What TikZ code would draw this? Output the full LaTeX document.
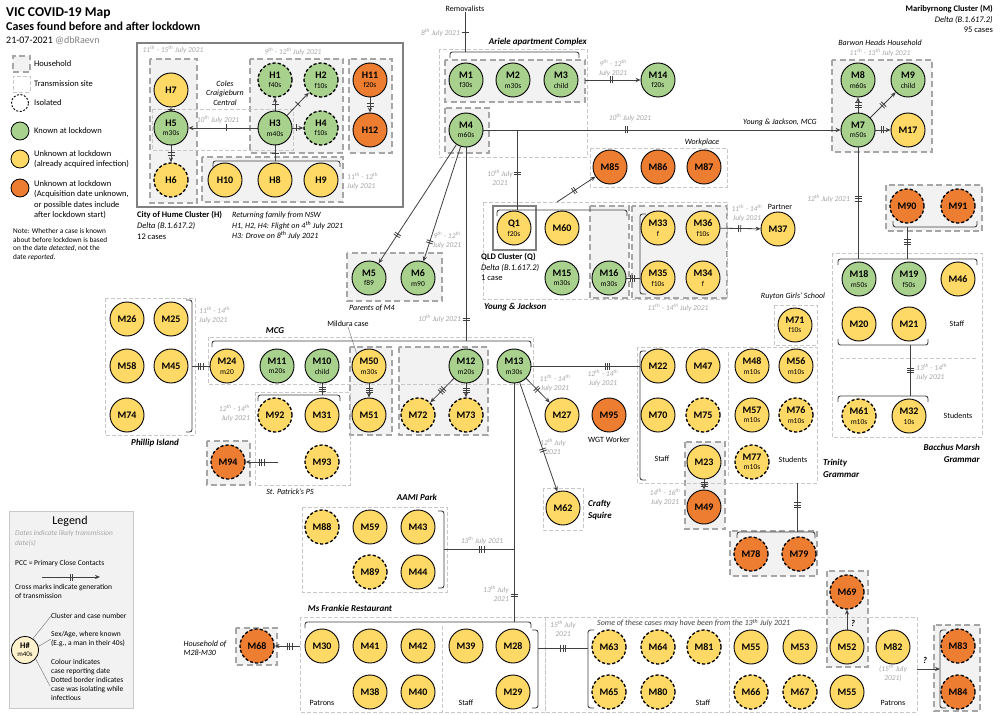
\documentclass[tikz,border=0pt]{standalone}
\usepackage{fontspec}
\setmainfont{Carlito}
\usetikzlibrary{arrows.meta,decorations.markings}
\pgfdeclarelayer{bg}
\pgfdeclarelayer{mid}
\pgfsetlayers{bg,mid,main}
\definecolor{cgreen}{HTML}{A9D18E}
\definecolor{cyellow}{HTML}{FFD966}
\definecolor{corange}{HTML}{ED7D31}
\definecolor{hhfill}{HTML}{F2F2F2}
\definecolor{hhline}{HTML}{A6A6A6}
\definecolor{siteline}{HTML}{C8C8C8}
\definecolor{datec}{HTML}{A6A6A6}
\definecolor{linec}{HTML}{404040}
\definecolor{framec}{HTML}{808080}
\definecolor{paley}{HTML}{FFF2CC}
\newcommand\tsup{\textsuperscript{th}}
\newcommand\cl[2]{#1\\{\fontsize{7.5}{9}\selectfont\mdseries #2}}
\newcommand\tks[1]{\foreach \ii in {1,...,#1}{\draw[-,solid,draw=linec,line width=0.8pt] ({(\ii-(#1+1)/2)*2.2pt},-3.5pt) -- ({(\ii-(#1+1)/2)*2.2pt},3.5pt);}}
\tikzset{
 cs/.style={circle,draw=black,line width=0.9pt,minimum size=34pt,inner sep=0pt,align=center,font=\fontsize{10}{9.5}\selectfont\bfseries},
 G/.style={cs,fill=cgreen},
 Y/.style={cs,fill=cyellow},
 O/.style={cs,fill=corange},
 iso/.style={dash pattern=on 3.2pt off 2pt,line width=1.3pt},
 hh/.style={fill=hhfill,draw=hhline,line width=1.6pt,dash pattern=on 6pt off 3.5pt},
 site/.style={draw=siteline,line width=0.7pt,dash pattern=on 4pt off 2pt},
 frm/.style={draw=framec,line width=1.5pt},
 con/.style={draw=linec,line width=0.8pt},
 arr/.style={con,-{Stealth[length=5pt,width=4.2pt]}},
 brk/.style={draw=linec,line width=0.9pt,rounded corners=2.5pt},
 tk/.style 2 args={postaction={decorate,decoration={markings,mark=at position #1 with {\tks{#2}}}}},
 dt/.style={font=\fontsize{7.5}{9}\selectfont\itshape,text=datec,align=center,inner sep=0pt},
 lab/.style={font=\fontsize{8}{9.5}\selectfont,inner sep=0pt,align=center},
 ilab/.style={font=\fontsize{8}{9.5}\selectfont\itshape,inner sep=0pt,align=center},
 ttl/.style={font=\fontsize{9}{12}\selectfont\bfseries\itshape,inner sep=0pt,align=center},
 lgt/.style={font=\fontsize{8.5}{10.5}\selectfont,inner sep=0pt,align=left,anchor=west},
}
\begin{document}
\begin{tikzpicture}[x=1pt,y=-1pt]
\useasboundingbox (0,0) rectangle (1000,714);

% ---------- title ----------
\node[anchor=west,inner sep=0pt,font=\fontsize{13.5}{15}\selectfont\bfseries] (title) at (6,13) {VIC COVID-19 Map};
\node[anchor=west,inner sep=0pt,font=\fontsize{12}{13}\selectfont\bfseries] (subt) at (6,26) {Cases found before and after lockdown};
\node[anchor=west,inner sep=0pt,font=\fontsize{10}{11}\selectfont] (datel) at (6,41) {21-07-2021 \textcolor{gray}{@dbRaevn}};

% ---------- top legend ----------
\node[hh,minimum width=17pt,minimum height=16pt,inner sep=0pt] (lg1) at (21.5,64) {};
\node[site,minimum width=17pt,minimum height=16pt,inner sep=0pt] (lg2) at (21.5,84) {};
\node[circle,draw=black,dash pattern=on 2pt off 1.6pt,line width=0.9pt,minimum size=17pt,inner sep=0pt] (lg3) at (20,103) {};
\node[circle,draw=black,fill=cgreen,line width=0.8pt,minimum size=18pt,inner sep=0pt] (lg4) at (20,131) {};
\node[circle,draw=black,fill=cyellow,line width=0.8pt,minimum size=18pt,inner sep=0pt] (lg5) at (20,159) {};
\node[circle,draw=black,fill=corange,line width=0.8pt,minimum size=18pt,inner sep=0pt] (lg6) at (20,188) {};
\node[lgt] (lt1) at (34,64) {Household};
\node[lgt] (lt2) at (34,84) {Transmission site};
\node[lgt] (lt3) at (34,103) {Isolated};
\node[lgt] (lt4) at (34,131) {Known at lockdown};
\node[lgt] (lt5) at (34,159) {Unknown at lockdown\\(already acquired infection)};
\node[lgt] (lt6) at (34,199.5) {Unknown at lockdown\\(Acquisition date unknown,\\or possible dates include\\after lockdown start)};
\node[anchor=north west,inner sep=0pt,align=left,font=\fontsize{7.3}{8.8}\selectfont] (note) at (13,228) {Note: Whether a case is known\\about before lockdown is based\\on the date \emph{detected}, not the\\date \emph{reported}.};

% ---------- background boxes ----------
\begin{pgfonlayer}{bg}
\fill[white] (0,0) rectangle (1000,714);
\draw[hh] (150,59) rectangle (197,203);
\draw[hh] (250,59) rectangle (343,153);
\draw[hh] (349,59) rectangle (392,153);
\draw[hh] (202,157) rectangle (343,202);
\draw[hh] (445,60) rectangle (585,102);
\draw[hh] (445,108) rectangle (489,153);
\draw[hh] (832,60) rectangle (932,152);
\draw[hh] (886,185) rectangle (982,231);
\draw[hh] (590,206) rectangle (629,298);
\draw[hh] (632,206) rectangle (727,298);
\draw[hh] (347,253) rectangle (442,301);
\draw[hh] (350,347) rectangle (392,435);
\draw[hh] (399,347) rectangle (488,435);
\draw[hh] (207,441) rectangle (250,485);
\draw[hh] (685,442) rectangle (725,529);
\draw[hh] (730,531) rectangle (817,576);
\draw[hh] (827,571) rectangle (868,667);
\draw[hh] (934,625) rectangle (980,711);
\draw[hh] (236,628) rectangle (277,665);
% sites
\draw[site] (439,49) rectangle (587,157);
\draw[site] (152,109) rectangle (293,150);
\draw[site] (590,148) rectangle (727,187);
\draw[site] (483,202) rectangle (727,299);
\draw[site] (208,337) rectangle (533,384);
\draw[site] (255,392) rectangle (350,485);
\draw[site] (105,298) rectangle (195,435);
\draw[site] (774,305) rectangle (817,345);
\draw[site] (637,347) rectangle (817,483);
\draw[site] (728,352) -- (728,478);
\draw[site] (832,253) rectangle (982,437);
\draw[site] (840,358) -- (977,358);
\draw[site] (543,488) rectangle (583,530);
\draw[site] (302,507) rectangle (447,592);
\draw[site] (300,617) rectangle (545,712);
\draw[site] (442,626) -- (442,712);
\draw[site] (545,617) rectangle (917,712);
\draw[site] (729,626) -- (729,712);
% frames
\draw[frm] (137,43) rectangle (403,207);
\draw[frm] (493,206) rectangle (536,250);
\draw[draw=siteline,fill=hhfill,line width=0.8pt] (9,511) rectangle (133,708);
\end{pgfonlayer}

% ---------- H cluster ----------
\node[Y] (H7) at (171,90) {H7};
\node[G] (H5) at (171,128) {\cl{H5}{m30s}};
\node[Y,iso] (H6) at (171,180) {H6};
\node[G,iso] (H1) at (275,80) {\cl{H1}{f40s}};
\node[G,iso] (H2) at (321,80) {\cl{H2}{f10s}};
\node[G] (H3) at (275,128) {\cl{H3}{m40s}};
\node[G,iso] (H4) at (321,128) {\cl{H4}{f10s}};
\node[O] (H11) at (370,80) {\cl{H11}{f20s}};
\node[O] (H12) at (370,130) {H12};
\node[Y] (H10) at (225,180) {H10};
\node[Y] (H8) at (275,180) {H8};
\node[Y] (H9) at (321,180) {H9};

\node[ilab] (coles) at (225,93) {Coles\\Craigieburn\\Central};
\node[dt] (d1) at (173,50) {11\tsup{} - 15\tsup{} July 2021};
\node[dt] (d2) at (293,52) {9\tsup{} - 12\tsup{} July 2021};
\node[dt] (d3) at (218,120) {10\tsup{} July 2021};
\node[dt,anchor=west,align=left] (d4) at (347,181) {11\tsup{} - 12\tsup{}\\July 2021};
\node[anchor=north west,inner sep=0pt,align=left,font=\fontsize{8.5}{11}\selectfont] (hn) at (137,211) {\textbf{City of Hume Cluster (H)}\\\textit{Delta (B.1.617.2)}\\12 cases};
\node[anchor=north west,inner sep=0pt,align=left,font=\fontsize{8}{10.5}\selectfont\itshape] (hr) at (232,212) {Returning family from NSW\\H1, H2, H4: Flight on 4\tsup{} July 2021\\H3: Drove on 8\tsup{} July 2021};

% ---------- Maribyrnong title ----------
\node[anchor=east,inner sep=0pt,font=\fontsize{8.5}{10}\selectfont\bfseries] (mar1) at (993,9) {Maribyrnong Cluster (M)};
\node[anchor=east,inner sep=0pt,font=\fontsize{8.5}{10}\selectfont\itshape] (mar2) at (993,20) {Delta (B.1.617.2)};
\node[anchor=east,inner sep=0pt,font=\fontsize{8.5}{10}\selectfont] (mar3) at (993,30) {95 cases};

% ---------- M nodes ----------
\node[G] (M1) at (466,80) {\cl{M1}{f30s}};
\node[G] (M2) at (513,80) {\cl{M2}{m30s}};
\node[G] (M3) at (561,80) {\cl{M3}{child}};
\node[G] (M14) at (658,80) {\cl{M14}{f20s}};
\node[G] (M4) at (466,130) {\cl{M4}{m60s}};
\node[O] (M85) at (610,167) {M85};
\node[O] (M86) at (658,167) {M86};
\node[O] (M87) at (704,167) {M87};
\node[Y] (Q1) at (514,228) {\cl{Q1}{f20s}};
\node[Y] (M60) at (562,228) {M60};
\node[G] (M15) at (562,278) {\cl{M15}{m30s}};
\node[G] (M16) at (609,278) {\cl{M16}{m30s}};
\node[Y] (M33) at (658,228) {\cl{M33}{f}};
\node[Y] (M36) at (703,228) {\cl{M36}{f10s}};
\node[Y] (M35) at (658,278) {\cl{M35}{f10s}};
\node[Y] (M34) at (703,278) {\cl{M34}{f}};
\node[Y] (M37) at (778,229) {M37};
\node[G] (M7) at (858,130) {\cl{M7}{m50s}};
\node[G] (M8) at (858,80) {\cl{M8}{m60s}};
\node[G] (M9) at (908,80) {\cl{M9}{child}};
\node[Y] (M17) at (908,130) {M17};
\node[O,iso] (M90) at (907,206) {M90};
\node[O,iso] (M91) at (958,206) {M91};
\node[G] (M18) at (859,279) {\cl{M18}{m50s}};
\node[G] (M19) at (909,279) {\cl{M19}{f50s}};
\node[Y] (M46) at (958,279) {M46};
\node[Y] (M20) at (859,324) {M20};
\node[Y] (M21) at (909,324) {M21};
\node[Y,iso] (M61) at (859,416) {\cl{M61}{m10s}};
\node[Y] (M32) at (909,416) {\cl{M32}{10s}};
\node[Y] (M71) at (795,325) {\cl{M71}{f10s}};
\node[Y] (M22) at (658,366) {M22};
\node[Y] (M47) at (703,366) {M47};
\node[Y] (M48) at (752,366) {\cl{M48}{m10s}};
\node[Y] (M56) at (796,366) {\cl{M56}{m10s}};
\node[Y] (M70) at (658,415) {M70};
\node[Y,iso] (M75) at (703,415) {M75};
\node[Y] (M57) at (752,415) {\cl{M57}{m10s}};
\node[Y,iso] (M76) at (796,415) {\cl{M76}{m10s}};
\node[Y,iso] (M77) at (752,462) {\cl{M77}{m10s}};
\node[Y] (M23) at (704,462) {M23};
\node[O] (M49) at (704,507) {M49};
\node[O,iso] (M78) at (751,554) {M78};
\node[O,iso] (M79) at (799,554) {M79};
\node[G] (M5) at (369,278) {\cl{M5}{f89}};
\node[G] (M6) at (418,278) {\cl{M6}{m90}};
\node[Y] (M26) at (127,319) {M26};
\node[Y] (M25) at (171,319) {M25};
\node[Y] (M58) at (127,366) {M58};
\node[Y] (M45) at (171,366) {M45};
\node[Y] (M74) at (127,415) {M74};
\node[Y] (M24) at (227,366) {\cl{M24}{m20}};
\node[G] (M11) at (277,366) {\cl{M11}{m20s}};
\node[G] (M10) at (322,366) {\cl{M10}{child}};
\node[Y] (M50) at (369,366) {\cl{M50}{m30s}};
\node[G] (M12) at (466,366) {\cl{M12}{m20s}};
\node[G] (M13) at (514,366) {\cl{M13}{m30s}};
\node[Y,iso] (M92) at (275,415) {M92};
\node[Y] (M31) at (322,415) {M31};
\node[Y,iso] (M93) at (322,462) {M93};
\node[Y] (M51) at (369,415) {M51};
\node[Y,iso] (M72) at (418,415) {M72};
\node[Y,iso] (M73) at (466,415) {M73};
\node[O,iso] (M94) at (228,462) {M94};
\node[Y] (M27) at (562,415) {M27};
\node[O] (M95) at (609,415) {M95};
\node[Y] (M62) at (563,508) {M62};
\node[Y,iso] (M88) at (322,527) {M88};
\node[Y] (M59) at (370,527) {M59};
\node[Y] (M43) at (418,527) {M43};
\node[Y,iso] (M89) at (370,572) {M89};
\node[Y] (M44) at (418,572) {M44};
\node[Y] (M30) at (322,646) {M30};
\node[Y] (M41) at (370,646) {M41};
\node[Y] (M42) at (418,646) {M42};
\node[Y] (M39) at (466,646) {M39};
\node[Y] (M28) at (513,646) {M28};
\node[Y] (M38) at (370,692) {M38};
\node[Y] (M40) at (418,692) {M40};
\node[Y] (M29) at (513,692) {M29};
\node[O,iso] (M68) at (257,646) {M68};
\node[Y,iso] (M63) at (609,647) {M63};
\node[Y,iso] (M64) at (658,647) {M64};
\node[Y,iso] (M81) at (704,647) {M81};
\node[Y] (M55) at (751,647) {M55};
\node[Y] (M53) at (800,647) {M53};
\node[Y] (M52) at (847,647) {M52};
\node[Y] (M82) at (893,647) {M82};
\node[Y,iso] (M65) at (609,692) {M65};
\node[Y,iso] (M80) at (658,692) {M80};
\node[Y,iso] (M66) at (751,692) {M66};
\node[Y,iso] (M67) at (800,692) {M67};
\node[Y] (M55b) at (847,692) {M55};
\node[O,iso] (M69) at (847,592) {M69};
\node[O,iso] (M83) at (958,646) {M83};
\node[O,iso] (M84) at (958,692) {M84};

% ---------- labels ----------
\node[lab] (rem) at (465,9) {Removalists};
\node[ttl,anchor=east] (tAr) at (587,42) {Ariele apartment Complex};
\node[ilab] (tWp) at (702,142) {Workplace};
\node[ilab] (tBH) at (880,43) {Barwon Heads Household};
\node[ilab] (tYJM) at (780,122) {Young \& Jackson, MCG};
\node[ilab] (tPar) at (372,308) {Parents of M4};
\node[lab] (tPart) at (780,207) {Partner};
\node[ttl,anchor=west] (tYJ) at (484,307) {Young \& Jackson};
\node[anchor=west,inner sep=0pt,align=left,font=\fontsize{8.5}{10.5}\selectfont] (tQ) at (481,267) {\textbf{QLD Cluster (Q)}\\\textit{Delta (B.1.617.2)}\\1 case};
\node[ttl] (tMCG) at (275,331) {MCG};
\node[lab] (tMil) at (348,324) {Mildura case};
\node[ttl] (tPI) at (155,443) {Phillip Island};
\node[ilab] (tSP) at (290,492) {St. Patrick's PS};
\node[ilab] (tRu) at (793,296) {Ruyton Girls' School};
\node[lab] (tWGT) at (609,440) {WGT Worker};
\node[ttl,anchor=west,align=left] (tCS) at (588,510) {Crafty\\Squire};
\node[ttl,anchor=west,align=left] (tTG) at (823,468) {Trinity\\Grammar};
\node[ttl,anchor=east,align=right] (tBM) at (980,453) {Bacchus Marsh\\Grammar};
\node[ttl] (tAA) at (417,497) {AAMI Park};
\node[ttl] (tMF) at (350,608) {Ms Frankie Restaurant};
\node[ilab,align=left] (tHH) at (205,648) {Household of\\M28-M30};
\node[ilab,anchor=west,text=linec] (tSome) at (597,623) {Some of these cases may have been from the 13\tsup{} July 2021};
\node[lab] (s1) at (662,459) {Staff};
\node[lab] (s2) at (793,460) {Students};
\node[lab] (s3) at (957,324) {Staff};
\node[lab] (s4) at (958,416) {Students};
\node[lab] (s5) at (322,703) {Patrons};
\node[lab] (s6) at (466,703) {Staff};
\node[lab] (s7) at (703,703) {Staff};
\node[lab] (s8) at (893,703) {Patrons};
\node[font=\fontsize{9}{10}\selectfont\bfseries\itshape,inner sep=0pt] (q1) at (853,623) {?};
\node[font=\fontsize{9}{10}\selectfont\bfseries\itshape,inner sep=0pt] (q2) at (925,660) {?};

\node[dt,anchor=east] (d5) at (460,33) {8\tsup{} July 2021};
\node[dt] (d6) at (613,68) {9\tsup{} - 12\tsup{}\\July 2021};
\node[dt] (d7) at (630,118) {10\tsup{} July 2021};
\node[dt] (d8) at (500,178) {10\tsup{} July\\2021};
\node[dt] (d9) at (447,240) {9\tsup{} - 12\tsup{}\\July 2021};
\node[dt,anchor=east] (d10) at (461,319) {10\tsup{} July 2021};
\node[dt] (d11) at (880,53) {11\tsup{} - 13\tsup{} July 2021};
\node[dt,anchor=east] (d12) at (850,199) {12\tsup{} July 2021};
\node[dt] (d13) at (747,213) {11\tsup{} - 14\tsup{}\\July 2021};
\node[dt] (d14) at (678,308) {11\tsup{} - 14\tsup{} July 2021};
\node[dt,anchor=west,align=left] (d15) at (199,315) {11\tsup{} - 14\tsup{}\\July 2021};
\node[dt,anchor=east,align=right] (d16) at (250,413) {12\tsup{} - 14\tsup{}\\July 2021};
\node[dt] (d17) at (555,383) {11\tsup{} - 14\tsup{}\\July 2021};
\node[dt] (d18) at (603,378) {12\tsup{} - 14\tsup{}\\July 2021};
\node[dt] (d19) at (553,447) {12\tsup{} July\\2021};
\node[dt,anchor=west,align=left] (d20) at (916,372) {13\tsup{} - 14\tsup{}\\July 2021};
\node[dt] (d21) at (665,497) {14\tsup{} - 16\tsup{}\\July 2021};
\node[dt] (d22) at (482,541) {13\tsup{} July 2021};
\node[dt,anchor=east,align=right] (d23) at (509,594) {13\tsup{} July\\2021};
\node[dt] (d24) at (563,629) {15\tsup{} July\\2021};
\node[dt] (d25) at (893,673) {(15\tsup{} July\\2021)};

% ---------- bottom legend ----------
\node[font=\fontsize{12}{14}\selectfont,inner sep=0pt] (lgT) at (70,521) {Legend};
\node[dt,anchor=north west,align=left,font=\fontsize{7.3}{10}\selectfont\itshape] (lgD) at (15,530) {Dates indicate likely transmission\\date(s)};
\node[anchor=west,inner sep=0pt,font=\fontsize{7.5}{9}\selectfont] (lgP) at (15,563) {PCC = Primary Close Contacts};
\coordinate (la1) at (42,577);
\coordinate (la2) at (100,577);
\node[anchor=north west,inner sep=0pt,align=left,font=\fontsize{7.5}{9.5}\selectfont] (lgX) at (15,584) {Cross marks indicate generation\\of transmission};
\node[circle,draw=black,fill=paley,minimum size=27pt,inner sep=0pt,align=center,line width=0.8pt,font=\fontsize{8.5}{8}\selectfont\bfseries] (lgC) at (25,650) {H\#\\{\fontsize{7}{8}\selectfont\mdseries m40s}};
\node[anchor=west,inner sep=0pt,font=\fontsize{7.5}{9}\selectfont] (lg7) at (51,616) {Cluster and case number};
\node[anchor=west,inner sep=0pt,align=left,font=\fontsize{7.5}{9}\selectfont] (lg8) at (51,639) {Sex/Age, where known\\(E.g., a man in their 40s)};
\node[anchor=west,inner sep=0pt,align=left,font=\fontsize{7.5}{9}\selectfont] (lg9) at (51,680) {Colour indicates\\case reporting date\\Dotted border indicates\\case was isolating while\\infectious};
\coordinate (lg9a) at (50,686);

% ---------- connectors ----------
\begin{pgfonlayer}{mid}
\draw[gray,line width=0.5pt] (lgC.55) -- (lg7.west);
\draw[gray,line width=0.5pt] (lgC.15) -- (lg8.west);
\draw[gray,line width=0.5pt] (lgC.-40) -- (lg9a);
\draw[arr,tk={0.5}{2}] (la1) -- (la2);
\draw[gray,line width=0.5pt] (tMil.south) -- (M50.north west);

% brackets
\draw[brk] (450,58) -- (450,52) -- (579,52) -- (579,58);
\draw[brk] (213,167) -- (213,161) -- (340,161) -- (340,167);
\draw[brk] (497,216) -- (497,210) -- (627,210) -- (627,216);
\draw[brk] (646,214) -- (640,214) -- (640,294) -- (646,294);
\draw[brk] (893,221) -- (893,227) -- (977,227) -- (977,221);
\draw[brk] (838,265) -- (838,259) -- (977,259) -- (977,265);
\draw[brk] (838,339) -- (838,345) -- (928,345) -- (928,339);
\draw[brk] (838,402) -- (838,396) -- (928,396) -- (928,402);
\draw[brk] (186,300) -- (192,300) -- (192,432) -- (186,432);
\draw[brk] (212,347) -- (212,341) -- (531,341) -- (531,347);
\draw[brk] (258,401) -- (258,395) -- (340,395) -- (340,401);
\draw[brk] (646,351) -- (640,351) -- (640,480) -- (646,480);
\draw[brk] (737,538) -- (737,532) -- (815,532) -- (815,538);
\draw[brk] (438,511) -- (444,511) -- (444,588) -- (438,588);
\draw[brk] (305,628) -- (305,622) -- (531,622) -- (531,628);
\draw[brk] (532,630) -- (538,630) -- (538,708) -- (532,708);
\draw[brk] (594,630) -- (588,630) -- (588,708) -- (594,708);
\draw[brk] (946,630) -- (940,630) -- (940,708) -- (946,708);

\coordinate (cRem) at (465,52);
\coordinate (cH8) at (275,161);
\coordinate (cM3) at (585,80);
\coordinate (cQ0) at (517,130);
\coordinate (cQ1) at (517,210);
\coordinate (cWp) at (557,202);
\coordinate (cMCG) at (466,341);
\coordinate (cM33) at (640,278);
\coordinate (cB0) at (858,259);
\coordinate (cB1) at (907,227);
\coordinate (cB2) at (907,259);
\coordinate (cB3) at (910,345);
\coordinate (cB4) at (910,396);
\coordinate (cPI) at (192,366);
\coordinate (cSP) at (322,395);
\coordinate (cTG) at (640,366);
\coordinate (cMF) at (514,622);
\coordinate (cAA0) at (514,549);
\coordinate (cAA1) at (444,549);
\coordinate (cTr0) at (797,483);
\coordinate (cTr1) at (797,532);
\coordinate (cMF0) at (538,648);
\coordinate (cMF1) at (588,648);
\coordinate (cM68) at (300,646);
\coordinate (cM94) at (278,462);
\coordinate (cR0) at (917,669);
\coordinate (cR1) at (940,669);

\draw[arr,tk={0.5}{1}] (H5) -- (H7);
\draw[arr,tk={0.5}{2}] (H5) -- (H6);
\draw[arr,tk={0.45}{1}] (H3) -- (H5);
\draw[arr,tk={0.5}{1}] (H3) -- (H1);
\draw[arr,tk={0.5}{1}] (H3) -- (H2);
\draw[arr,tk={0.4}{1}] (H3) -- (H4);
\draw[con,tk={0.5}{1}] (H3) -- (cH8);
\draw[arr,tk={0.5}{2}] (H11) -- (H12);

\draw[con,tk={0.5}{1}] (rem) -- (cRem);
\draw[arr,tk={0.48}{2}] (cM3) -- (M14);
\draw[arr,tk={0.4}{2}] (M4) -- (M7);
\draw[con,tk={0.54}{2}] (cQ0) -- (cQ1);
\draw[arr,tk={0.45}{2}] (cWp) -- (M85);
\draw[arr,tk={0.76}{2}] (M4) -- (M5);
\draw[arr,tk={0.83}{2}] (M4) -- (M6);
\draw[con,tk={0.89}{2}] (M4) -- (cMCG);
\draw[con,tk={0.45}{3}] (M16) -- (cM33);
\draw[arr,tk={0.48}{2}] (M36) -- (M37);
\draw[arr,tk={0.5}{3}] (M7) -- (M8);
\draw[arr,tk={0.5}{2}] (M7) -- (M9);
\draw[arr,tk={0.45}{2}] (M7) -- (M17);
\draw[con,tk={0.46}{3}] (M7) -- (cB0);
\draw[con,tk={0.47}{3}] (cB1) -- (cB2);
\draw[con,tk={0.5}{3}] (cB3) -- (cB4);
\draw[con,tk={0.5}{3}] (cPI) -- (M24);
\draw[con,tk={0.5}{3}] (M10) -- (cSP);
\draw[arr,tk={0.5}{3}] (M50) -- (M51);
\draw[arr,tk={0.5}{3}] (M12) -- (M72);
\draw[arr,tk={0.5}{3}] (M12) -- (M73);
\draw[arr,tk={0.5}{3}] (cM94) -- (M94);
\draw[con,tk={0.7}{3}] (M13) -- (cTG);
\draw[arr,tk={0.45}{2}] (M13) -- (M27);
\draw[arr,tk={0.62}{2}] (M13) -- (M62);
\draw[con,tk={0.89}{2}] (M13) -- (cMF);
\draw[con,tk={0.46}{3}] (cAA0) -- (cAA1);
\draw[arr,tk={0.5}{3}] (M23) -- (M49);
\draw[con,tk={0.45}{3}] (cTr0) -- (cTr1);
\draw[con,tk={0.5}{3}] (cMF0) -- (cMF1);
\draw[arr,tk={0.4}{3}] (cM68) -- (M68);
\draw[arr] (M52) -- (M69);
\draw[arr] (cR0) -- (cR1);
\end{pgfonlayer}
\end{tikzpicture}
\end{document}
